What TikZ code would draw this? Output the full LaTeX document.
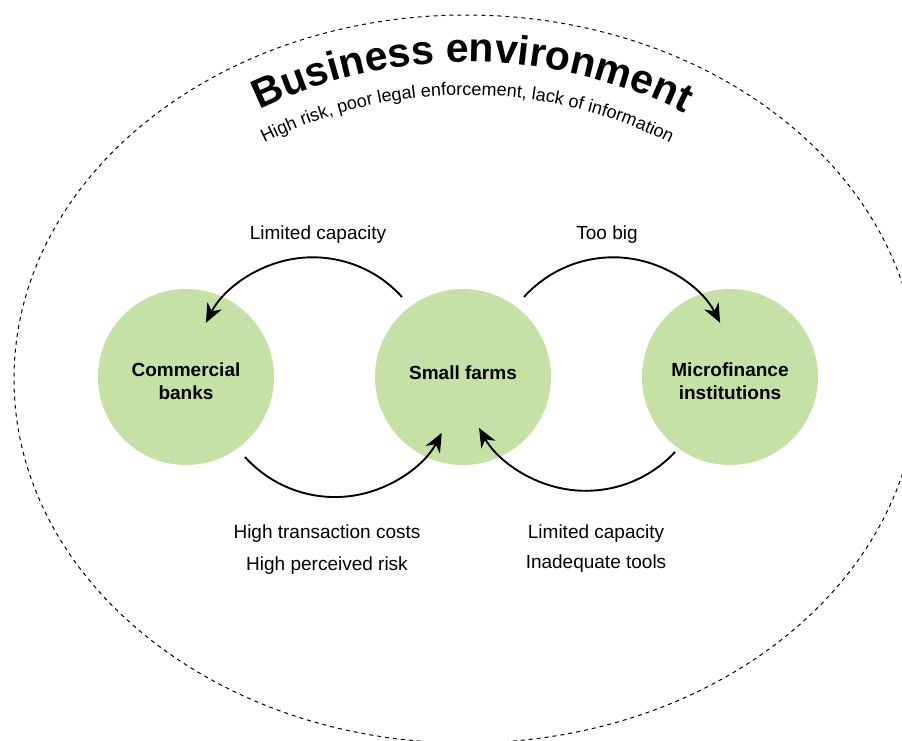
\documentclass[tikz,border=0pt]{standalone}
\usepackage{fontspec}
\setmainfont{Liberation Sans}
\usetikzlibrary{arrows.meta,decorations.text,calc}
\definecolor{leaf}{HTML}{C5E1A5}
\begin{document}
\begin{tikzpicture}[x=1pt,y=-1pt,
  blob/.style={circle, fill=leaf, minimum size=176pt, inner sep=0pt},
  blobtext/.style={align=center, inner sep=0pt, font=\fontsize{19}{23}\selectfont\bfseries},
  flow/.style={line width=1.9pt, -{Stealth[length=19pt,width=16pt,inset=6pt]}},
  lbl/.style={font=\fontsize{19}{23}\selectfont, anchor=base},
  envline/.style={line width=1pt, dash pattern=on 4pt off 4pt}
]
\useasboundingbox (0,0) rectangle (902,740);
\clip (0,0) rectangle (902,740);
% business environment boundary
\draw[envline] (466,379) ellipse[x radius=452, y radius=364];
% curved titles
\path[decorate, decoration={text along path, text align=center,
  text={|\fontsize{41}{48}\selectfont\bfseries|Business environment}}]
  ($(468,546)+(-129.5:484)$) arc[start angle=-129.5, end angle=-49.5, radius=484];
\path[decorate, decoration={text along path, text align=center,
  text={|\fontsize{18}{22}\selectfont|High risk, poor legal enforcement, lack of information}}]
  ($(467,546)+(-130:451)$) arc[start angle=-130, end angle=-50, radius=451];
% actors
\node[blob] (cb) at (186,377) {};
\node[blob] (sf) at (463,377) {};
\node[blob] (mf) at (730,377) {};
\node[blobtext] (cbt) at (186,381) {Commercial\\banks};
\node[blobtext] (sft) at (463,373) {Small farms};
\node[blobtext] (mft) at (730,381) {Microfinance\\institutions};
% relations
\draw[flow] ($(sf.center)+(-61,-80)$) arc[start angle=-42, end angle=-153, radius=120];
\draw[flow] ($(sf.center)+(61,-80)$) arc[start angle=-138, end angle=-27, radius=120];
\draw[flow] ($(cb.center)+(59,80)$) arc[start angle=138, end angle=28, radius=121];
\draw[flow] ($(mf.center)+(-55,75)$) arc[start angle=43, end angle=151, radius=122];
% labels
\node[lbl] (l1) at (318,239) {Limited capacity};
\node[lbl] (l2) at (607,239) {Too big};
\node[lbl] (l3) at (327,538) {High transaction costs};
\node[lbl] (l4) at (327,570) {High perceived risk};
\node[lbl] (l5) at (596,538) {Limited capacity};
\node[lbl] (l6) at (596,568) {Inadequate tools};
\end{tikzpicture}
\end{document}
